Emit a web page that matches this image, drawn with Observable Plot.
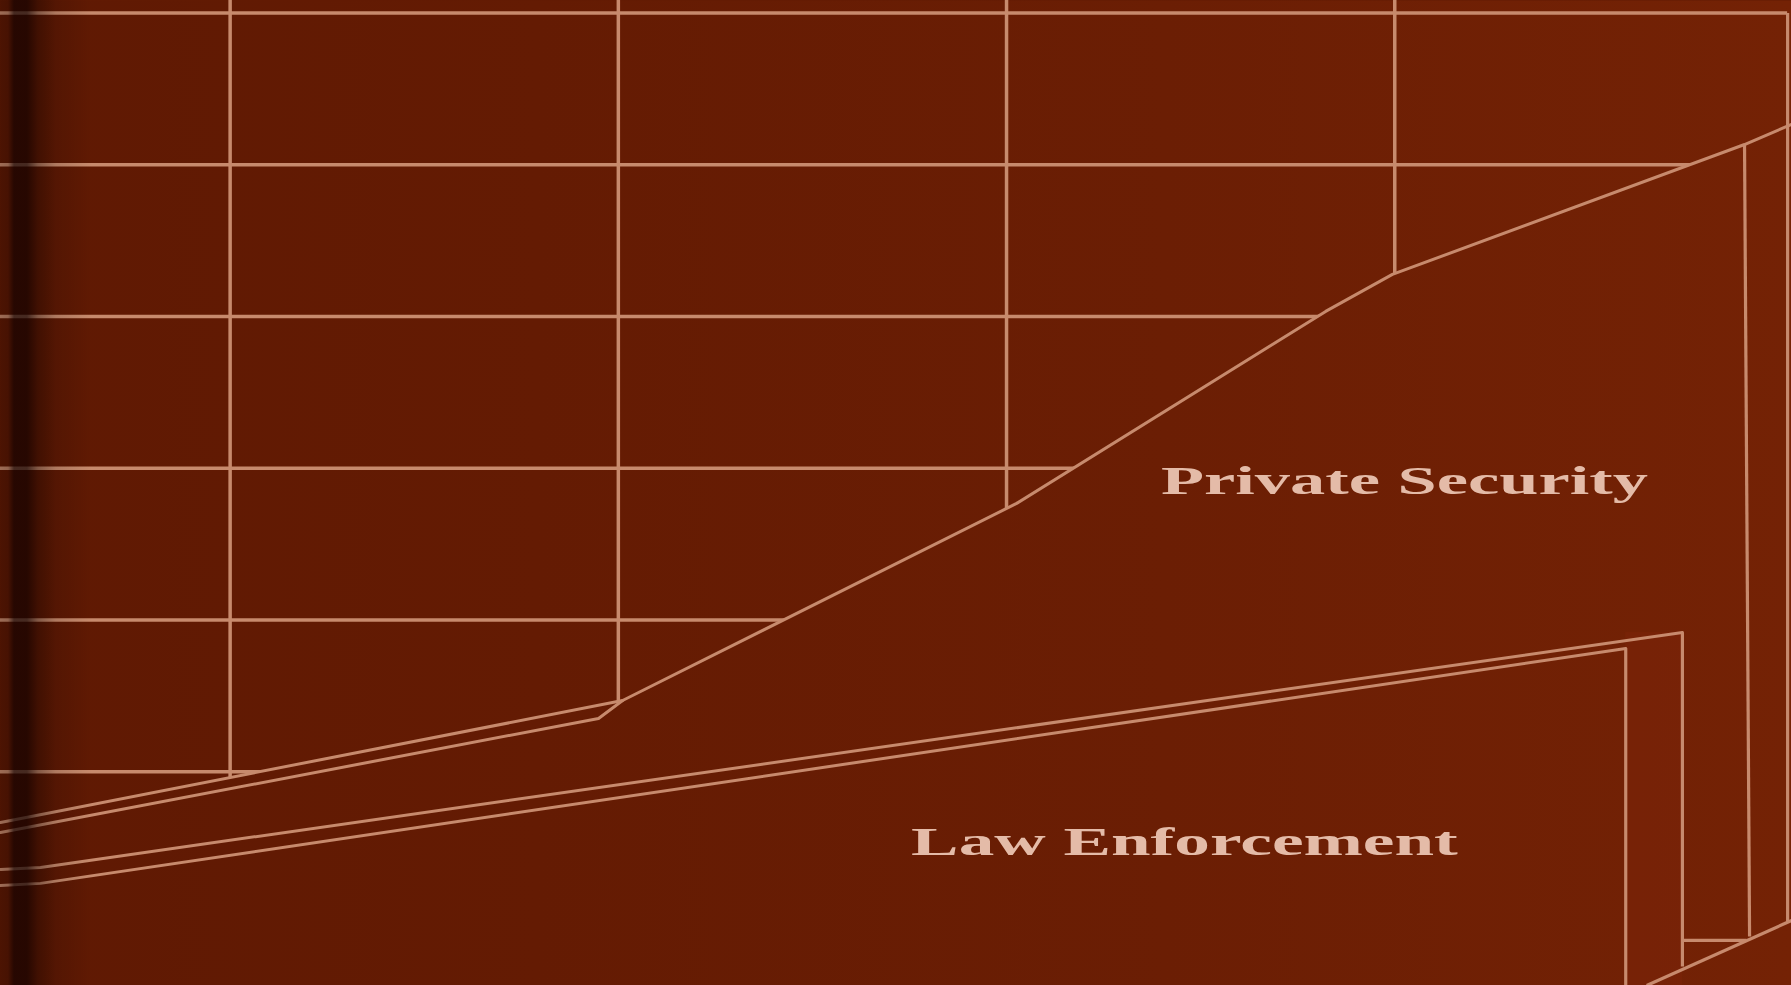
<!DOCTYPE html>
<html>
<head>
<meta charset="utf-8">
<script src="https://cdn.jsdelivr.net/npm/d3@7"></script>
<script src="https://cdn.jsdelivr.net/npm/@observablehq/plot@0.6"></script>
<style>
  html, body { margin: 0; padding: 0; background: #621a03; overflow: hidden; }
  #chart { position: relative; width: 1791px; height: 985px; }
  #chart svg { display: block; }
  #chart::after {
    content: ""; position: absolute; left: 0; top: 0; width: 100px; height: 985px; pointer-events: none;
    background: linear-gradient(to right, rgba(10,0,0,0.22) 0px, rgba(10,0,0,0.28) 8px, rgba(15,0,0,0.70) 14px,
      rgba(15,0,0,0.70) 27px, rgba(10,0,0,0.36) 38px, rgba(0,0,0,0.12) 56px, rgba(0,0,0,0) 92px);
  }
</style>
</head>
<body>
<div id="chart"></div>
<script>
// ---- scales (years on x, index value on y) ----
const xDomain = [1964.085, 2010.22];
const yDomain = [-4.09, 60.82];

// ---- grid ----
const gridYears = [1970, 1980, 1990, 2000];
const gridValues = [10, 20, 30, 40, 50, 60];
const frameYear = 2010.12;

// ---- Private Security (top edge: back and front) ----
const psBackYears = [1964.085, 1980.11];
const psBackValues = [6.65, 14.69];
const psFrontYears = [1964.085, 1979.49, 1980.11, 1990.26, 1998.22, 1999.94, 2009.01, 2010.22];
const psFrontValues = [5.99, 13.51, 14.69, 27.68, 40.33, 42.77, 51.33, 52.65];

// ---- Law Enforcement (top edge: back and front) ----
const leBackYears = [1964.085, 1965.115, 2007.41];
const leBackValues = [3.56, 3.69, 19.17];
const leFrontYears = [1964.085, 1965.115, 2005.95];
const leFrontValues = [2.50, 2.64, 18.12];

// ---- slab edges (start / end) ----
const edgeYears1  = [2005.95, 2007.41, 2009.01, 2010.12, 2007.41, 2006.49];
const edgeValues1 = [18.12, 19.17, 51.33, 60.00, -1.12, -4.09];
const edgeYears2  = [2005.95, 2007.41, 2009.14, 2010.12, 2009.06, 2010.22];
const edgeValues2 = [-4.09, -2.84, -0.86, 0.13, -1.12, 0.19];

// ---- labels ----
const labels = ["Private Security", "Law Enforcement"];
const labelYears = [2000.25, 1994.59];
const labelValues = [28.33, 4.48];
const labelWidths = [487, 548];

// ---- colours ----
const lineColor = "#c78a6d";
const textColor = "#e4bba8";

const toRows = (xs, ys) => xs.map((year, i) => ({year, value: ys[i]}));
const psBack = toRows(psBackYears, psBackValues);
const psFront = toRows(psFrontYears, psFrontValues);
const leBack = toRows(leBackYears, leBackValues);
const leFront = toRows(leFrontYears, leFrontValues);
const junction = psBackYears[psBackYears.length - 1];
const psEnvelope = psBack.concat(psFront.filter(d => d.year > junction));
const edges = edgeYears1.map((x1, i) => ({x1, y1: edgeValues1[i], x2: edgeYears2[i], y2: edgeValues2[i]}));
const labelRows = labels.map((text, i) => ({text, year: labelYears[i], value: labelValues[i], w: labelWidths[i]}));
const leSide = [{
  x1: leFrontYears[leFrontYears.length - 1], x2: leBackYears[leBackYears.length - 1],
  y1: yDomain[0], y2: leBackValues[leBackValues.length - 1]
}];

const chart = Plot.plot({
  width: 1791,
  height: 985,
  margin: 0,
  x: {domain: xDomain, axis: null},
  y: {domain: yDomain, axis: null},
  style: {background: "transparent", overflow: "hidden"},
  marks: [
    Plot.frame({fill: "url(#bgGrad)", stroke: "none"}),
    Plot.ruleX(gridYears, {stroke: lineColor, strokeWidth: 3.5}),
    Plot.ruleY(gridValues, {x1: xDomain[0], x2: frameYear, stroke: lineColor, strokeWidth: 3.5}),
    Plot.areaY(psEnvelope, {x: "year", y1: yDomain[0], y2: "value", fill: "url(#bgGrad)"}),
    Plot.rect(leSide, {x1: "x1", x2: "x2", y1: "y1", y2: "y2", fill: "#7c2509", fillOpacity: 0.55}),
    Plot.link(edges, {x1: "x1", y1: "y1", x2: "x2", y2: "y2", stroke: lineColor, strokeWidth: 3.2}),
    Plot.line(psBack, {x: "year", y: "value", stroke: lineColor, strokeWidth: 3}),
    Plot.line(psFront, {x: "year", y: "value", stroke: lineColor, strokeWidth: 3}),
    Plot.line(leBack, {x: "year", y: "value", stroke: lineColor, strokeWidth: 3}),
    Plot.line(leFront, {x: "year", y: "value", stroke: lineColor, strokeWidth: 3}),
    Plot.text(labelRows, {x: "year", y: "value", text: "text", fill: textColor, fontSize: 40, fontWeight: "bold",
      fontFamily: "Liberation Serif, Times New Roman, serif", textAnchor: "middle", lineAnchor: "bottom"})
  ]
});

document.getElementById("chart").appendChild(chart);

// gradient definitions
const defs = d3.select(chart).insert("defs", ":first-child");
const g = defs.append("linearGradient").attr("id", "bgGrad").attr("gradientUnits", "userSpaceOnUse")
  .attr("x1", 0).attr("y1", 0).attr("x2", 1791).attr("y2", 0);
[[0, "#5f1903"], [0.3, "#641b03"], [0.65, "#6b1e04"], [1, "#742205"]].forEach(([o, c]) =>
  g.append("stop").attr("offset", o).attr("stop-color", c));

// stretch the labels horizontally like the cover lettering
d3.select(chart).selectAll("text").each(function(d, i) {
  const b = this.getBBox();
  const cx = b.x + b.width / 2;
  const s = labelWidths[i] / b.width;
  const t = this.getAttribute("transform") || "";
  this.setAttribute("transform", `${t} translate(${cx},0) scale(${s},1) translate(${-cx},0)`);
});
</script>
</body>
</html>
